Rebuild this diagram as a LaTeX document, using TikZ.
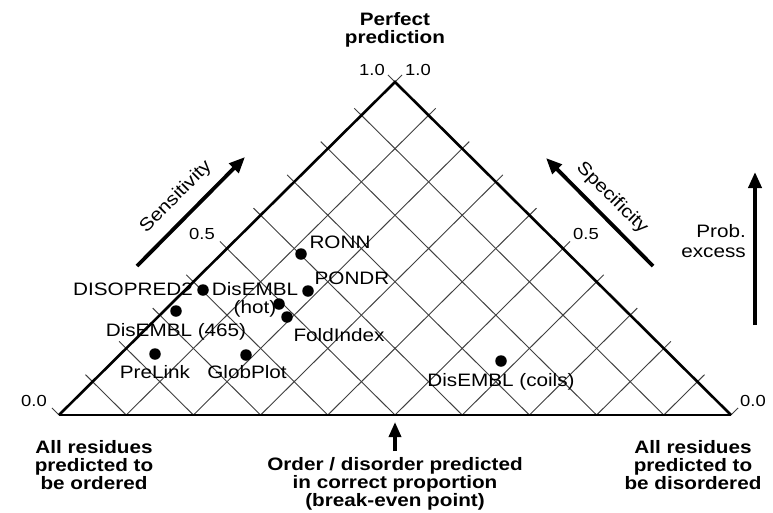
\documentclass[tikz,border=0pt]{standalone}
\usepackage{fontspec}
\setmainfont{Liberation Sans}[FakeStretch=1.15]
\usetikzlibrary{arrows.meta,calc}
\begin{document}
\begin{tikzpicture}[x=1pt,y=-1pt,
  gridline/.style={line width=0.95pt, black!75},
  sideline/.style={line width=2.6pt, line join=miter},
  baseline/.style={line width=2pt},
  lbl/.style={inner sep=0pt, anchor=base, font=\fontsize{18}{19}\selectfont},
  lblc/.style={inner sep=0pt, align=center, font=\fontsize{18}{18}\selectfont},
  boldlbl/.style={inner sep=0pt, align=center, font=\fontsize{18}{18}\selectfont\bfseries},
  num/.style={inner sep=0pt, anchor=base, font=\fontsize{16}{16}\selectfont},
  dot/.style={circle, fill=black, inner sep=0pt, minimum size=11.5pt},
  bigarrow/.style={line width=3.8pt, -{Triangle[length=16pt,width=13pt]}},
  smallarrow/.style={line width=3.4pt, -{Triangle[length=15pt,width=12pt]}},
]
\useasboundingbox (0,0) rectangle (773,512);
\coordinate (L) at (59,415);
\coordinate (R) at (731,415);
\coordinate (A) at (395,82);
\coordinate (Lout) at ($(L)+(A)-(R)$);
\coordinate (Rout) at ($(R)+(A)-(L)$);

% grid
\foreach \i [evaluate=\i as \f using \i/10, evaluate=\i as \g using 1-\i/10] in {1,...,9} {
  \coordinate (B) at ($(L)!\f!(R)$);
  \coordinate (P) at ($(L)!\f!(A)$);
  \coordinate (Q) at ($(R)!\g!(A)$);
  \draw[gridline] (B) -- ($(P)!-10pt!(B)$);
  \draw[gridline] (B) -- ($(Q)!-10pt!(B)$);
}
% ticks at the corners
\draw[gridline] (A) -- ($(A)!-10pt!(R)$);
\draw[gridline] (A) -- ($(A)!-10pt!(L)$);
\draw[gridline] (L) -- ($(L)!10pt!(Lout)$);
\draw[gridline] (R) -- ($(R)!10pt!(Rout)$);

% sides
\draw[sideline] (L) -- (A) -- (R);
\draw[baseline] (L) -- (R);

% axis numbers
\node[num] (n10l) at (372,75) {1.0};
\node[num] (n10r) at (418,75) {1.0};
\node[num] (n05l) at (202,239) {0.5};
\node[num] (n05r) at (586,239) {0.5};
\node[num] (n00l) at (34,406) {0.0};
\node[num] (n00r) at (753,406) {0.0};

% titles
\node[boldlbl] (perfect) at (395,30) {Perfect\\prediction};
\node[boldlbl] (ordered) at (94,465) {All residues\\predicted to\\be ordered};
\node[boldlbl] (disordered) at (693,465) {All residues\\predicted to\\be disordered};
\node[boldlbl] (breakeven) at (395,484) {Order / disorder predicted\\in correct proportion\\(break-even point)};

% arrows
\coordinate (sensT) at (137,266);
\coordinate (sensH) at (245,157);
\coordinate (specT) at (653,266);
\coordinate (specH) at (546,158);
\coordinate (probT) at (755,325);
\coordinate (probH) at (755,172);
\coordinate (beT) at (395,451);
\coordinate (beH) at (395,422);
\draw[bigarrow] (sensT) -- (sensH);
\draw[bigarrow] (specT) -- (specH);
\draw[bigarrow] (probT) -- (probH);
\draw[smallarrow] (beT) -- (beH);
\node[lblc, rotate=45] (sens) at (176,197) {Sensitivity};
\node[lblc, rotate=-45] (spec) at (612,198) {Specificity};
\node[inner sep=0pt, align=right, anchor=east, font=\fontsize{18}{20}\selectfont] (prob) at (746,241) {Prob.\\excess};

% data points
\node[dot] (dRONN) at (301,254) {};
\node[dot] (dPONDR) at (308,291) {};
\node[dot] (dDISO) at (203,290) {};
\node[dot] (dHOT) at (279,304) {};
\node[dot] (dFOLD) at (287,317) {};
\node[dot] (d465) at (176,311) {};
\node[dot] (dPRE) at (155,354) {};
\node[dot] (dGLOB) at (246,355) {};
\node[dot] (dCOIL) at (501,361) {};

\node[lbl] (tRONN) at (340,248.5) {RONN};
\node[lbl] (tPONDR) at (352,284.5) {PONDR};
\node[lbl] (tDISO) at (133,295) {DISOPRED2};
\node[lblc] (tHOT) at (255,300) {DisEMBL\\(hot)};
\node[lbl] (t465) at (176,336.5) {DisEMBL (465)};
\node[lbl] (tFOLD) at (339,341.5) {FoldIndex};
\node[lbl] (tPRE) at (155,378.5) {PreLink};
\node[lbl] (tGLOB) at (247,378.5) {GlobPlot};
\node[lbl] (tCOIL) at (501,386.5) {DisEMBL (coils)};
\end{tikzpicture}
\end{document}
